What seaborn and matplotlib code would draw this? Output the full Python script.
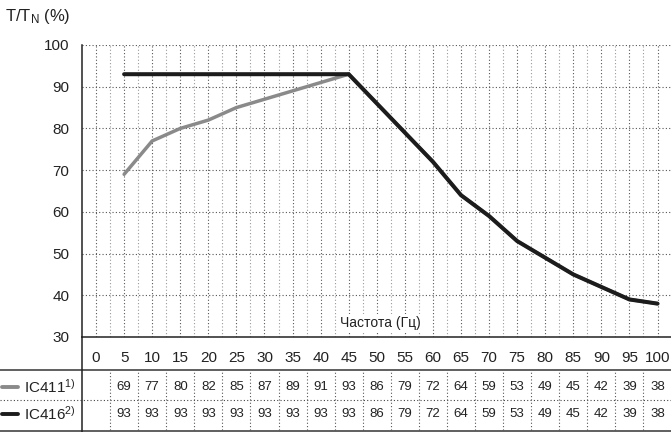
import matplotlib
matplotlib.use("Agg")
import matplotlib.pyplot as plt
from matplotlib.lines import Line2D
from matplotlib.transforms import blended_transform_factory
import numpy as np
import pandas as pd
import seaborn as sns

# Torque vs. frequency data
freq = [5, 10, 15, 20, 25, 30, 35, 40, 45, 50, 55, 60, 65, 70, 75, 80, 85, 90, 95, 100]
ic411 = [69, 77, 80, 82, 85, 87, 89, 91, 93, 86, 79, 72, 64, 59, 53, 49, 45, 42, 39, 38]
ic416 = [93, 93, 93, 93, 93, 93, 93, 93, 93, 86, 79, 72, 64, 59, 53, 49, 45, 42, 39, 38]
x_ticks = list(range(0, 101, 5))
y_ticks = list(range(30, 101, 10))
series_names = ["IC411", "IC416"]
series_notes = ["1)", "2)"]
series_colors = ["#8a8a8a", "#1c1c1c"]

sns.set_style("white")
plt.rcParams["font.family"] = ["Liberation Sans", "DejaVu Sans"]
plt.rcParams["mathtext.fontset"] = "custom"
plt.rcParams["mathtext.rm"] = "Liberation Sans"
plt.rcParams["mathtext.it"] = "Liberation Sans"

W, H = 671, 432
fig = plt.figure(figsize=(W / 100, H / 100), dpi=100)
ax = fig.add_axes([82 / W, (H - 337) / H, 1 - 82 / W, (337 - 45) / H])

df = pd.DataFrame({
    "freq": freq * 2,
    "value": ic411 + ic416,
    "series": [series_names[0]] * len(freq) + [series_names[1]] * len(freq),
})
sns.lineplot(data=df[df.series == "IC411"], x="freq", y="value", color=series_colors[0],
             lw=2.5, ax=ax, zorder=3, solid_joinstyle="miter")
sns.lineplot(data=df[df.series == "IC416"], x="freq", y="value", color=series_colors[1],
             lw=2.9, ax=ax, zorder=4, solid_joinstyle="miter")

ax.set_xlim(-2.5, 102.4)
ax.set_ylim(30, 100)
ax.set_xlabel("")
ax.set_ylabel("")
ax.set_xticks(x_ticks)
ax.set_xticklabels([str(v) for v in x_ticks], fontsize=11, color="#222222")
ax.set_yticks(y_ticks)
ax.set_yticklabels([str(v) for v in y_ticks], fontsize=11, color="#222222")
ax.tick_params(axis="x", direction="out", length=5, width=1, color="#222222", pad=5)
ax.tick_params(axis="y", direction="out", length=5, width=1, color="#222222", pad=4)

for s in ["top", "right"]:
    ax.spines[s].set_visible(False)
for s in ["left", "bottom"]:
    ax.spines[s].set_color("#222222")
    ax.spines[s].set_linewidth(1.1)

# dotted grid
for y in y_ticks[1:]:
    ax.axhline(y, color="#555555", lw=0.8, ls=(0, (1, 2)), zorder=1)
for xv in np.arange(0, 101, 2.5):
    c = "#555555" if xv % 5 == 0 else "#999999"
    ax.axvline(xv, color=c, lw=0.8, ls=(0, (1, 2)), zorder=1)

ax.text(50.6, 33.3, "Частота (Гц)", fontsize=10, ha="center", va="center", color="#222222",
        bbox=dict(facecolor="white", edgecolor="none", pad=1.5), zorder=5)

fig.text(5 / W, 1 - 17 / H, r"T/T$_\mathregular{N}$ (%)", fontsize=12, ha="left", va="center",
         color="#222222")

# value table under the axis
def fy(py):
    return 1 - py / H

trans = blended_transform_factory(ax.transData, fig.transFigure)
fig.add_artist(Line2D([0, 1], [fy(370), fy(370)], transform=fig.transFigure, color="#444444", lw=1.2))
fig.add_artist(Line2D([0, 1], [fy(400), fy(400)], transform=fig.transFigure, color="#444444",
                      lw=0.8, ls=(0, (1, 2))))
fig.add_artist(Line2D([0, 1], [fy(431), fy(431)], transform=fig.transFigure, color="#444444", lw=1.2))
fig.add_artist(Line2D([82 / W, 82 / W], [0, fy(337)], transform=fig.transFigure, color="#222222", lw=1.1))
for xv in np.arange(2.5, 100, 5):
    fig.add_artist(Line2D([xv, xv], [fy(430), fy(371)], transform=trans, color="#555555",
                          lw=0.8, ls=(0, (1, 2))))

rows_y = [387, 414]
for vals, name, note, col, py in zip([ic411, ic416], series_names, series_notes, series_colors, rows_y):
    for f, v in zip(freq, vals):
        fig.text(f, fy(py), str(v), transform=trans, fontsize=9.5, ha="center", va="center",
                 color="#222222")
    fig.add_artist(Line2D([2 / W, 18 / W], [fy(py), fy(py)], transform=fig.transFigure,
                          color=col, lw=2.8))
    fig.text(24 / W, fy(py), name + r"$^{" + note + "}$", fontsize=11, ha="left", va="center",
             color="#222222")

fig.savefig("out.png", dpi=100)
